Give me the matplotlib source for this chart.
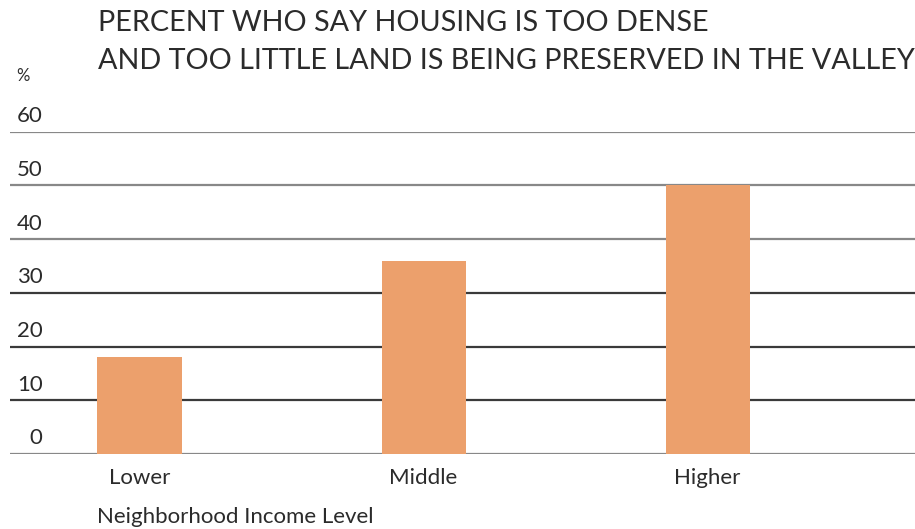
import matplotlib.pyplot as plt
from matplotlib.transforms import blended_transform_factory

# survey values, percent
income_levels = ['Lower', 'Middle', 'Higher']
pct_too_dense = [18, 36, 50]
y_ticks = [0, 10, 20, 30, 40, 50, 60]

title_lines = ['PERCENT WHO SAY HOUSING IS TOO DENSE',
               'AND TOO LITTLE LAND IS BEING PRESERVED IN THE VALLEY']

plt.rcParams['font.family'] = ['Lato', 'DejaVu Sans']
text_color = '#2b2b2b'
bar_color = '#eca06c'

fig = plt.figure(figsize=(9.15, 5.29), dpi=100)
ax = fig.add_axes([10 / 915, 75 / 529, 905 / 915, 322.3 / 529])

x = range(len(income_levels))
ax.bar(x, pct_too_dense, width=0.296, color=bar_color, zorder=3)

ax.set_xlim(-0.456, 2.73)
ax.set_ylim(0, 60)

# horizontal rules, labels sit just above each line
for v in y_ticks:
    col = '#888888' if v in (0, 40, 50, 60) else '#3a3a3a'
    ax.axhline(v, color=col, lw=1.6, zorder=1)

trans = blended_transform_factory(ax.transAxes, ax.transData)
for v in y_ticks:
    ax.annotate(str(v), xy=(0.036, v), xycoords=trans,
                xytext=(0, 4), textcoords='offset points',
                ha='right', va='bottom', fontsize=16, color=text_color)

ax.set_yticks([])
ax.set_xticks(list(x))
ax.set_xticklabels(income_levels, fontsize=16, color=text_color)
ax.tick_params(axis='x', length=0, pad=10)
for s in ax.spines.values():
    s.set_visible(False)

fig.text(97 / 915, 1 - 517 / 529, 'Neighborhood Income Level',
         fontsize=16, color=text_color, va='center', ha='left')
fig.text(16 / 915, 1 - 76 / 529, '%', fontsize=12, color=text_color,
         va='center', ha='left')
fig.text(98 / 915, 1 - 23 / 529, title_lines[0], fontsize=20.7,
         color=text_color, va='center', ha='left')
fig.text(98 / 915, 1 - 61 / 529, title_lines[1], fontsize=20.7,
         color=text_color, va='center', ha='left')

fig.savefig('out.png', dpi=100)
